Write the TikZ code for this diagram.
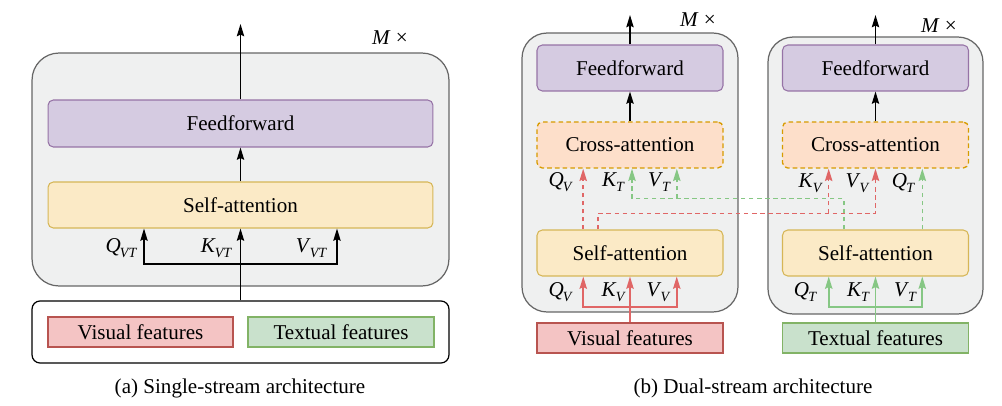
\documentclass[tikz,border=0pt]{standalone}
\usepackage{fontspec}
\setmainfont{Liberation Serif}
\usetikzlibrary{positioning,calc,arrows.meta}
\definecolor{stackfill}{HTML}{EFF0F0}
\definecolor{stackline}{HTML}{666666}
\definecolor{fffill}{HTML}{D5CBE1}
\definecolor{ffline}{HTML}{9673A6}
\definecolor{safill}{HTML}{FBEAC6}
\definecolor{saline}{HTML}{D6B656}
\definecolor{cafill}{HTML}{FDDFCA}
\definecolor{caline}{HTML}{D79B00}
\definecolor{visfill}{HTML}{F4C4C4}
\definecolor{visline}{HTML}{B85450}
\definecolor{txtfill}{HTML}{C9E1CC}
\definecolor{txtline}{HTML}{82B366}
\definecolor{redarrow}{HTML}{E06666}
\definecolor{greenarrow}{HTML}{86C784}
\newcommand{\qkv}[2]{\textit{#1}\kern-0.5pt\raisebox{-0.55ex}{\fontsize{8pt}{9pt}\selectfont\itshape #2}}
\tikzset{
  >={Stealth[length=7pt,width=4.2pt,inset=1pt]},
  stackbox/.style={draw=stackline,fill=stackfill,line width=0.7pt,rounded corners=0.5cm},
  block/.style={align=center,rectangle,draw,rounded corners=3pt,minimum height=0.92cm,minimum width=3.72cm,line width=0.6pt},
  ff/.style={block,draw=ffline,fill=fffill},
  sa/.style={block,draw=saline,fill=safill},
  ca/.style={block,draw=caline,fill=cafill,line width=0.75pt,dash pattern=on 2.6pt off 1.8pt},
  feat/.style={rectangle,draw,minimum height=0.6cm,minimum width=3.72cm,line width=0.6pt},
  redline/.style={draw=redarrow,line width=0.9pt},
  greenline/.style={draw=greenarrow,line width=0.9pt},
  reddash/.style={redline,dash pattern=on 2.6pt off 2pt},
  greendash/.style={greenline,dash pattern=on 2.6pt off 2pt}
}

\begin{document}
\begin{tikzpicture}[x=0.02cm,y=-0.02cm,->,line width=0.7pt,every node/.style={font=\fontsize{12pt}{14pt}\selectfont}]
    \useasboundingbox (0,0) rectangle (1002,406);

    % (a) single-stream
    \node at (240.5,169.5) [stackbox, minimum width=8.34cm, minimum height=4.66cm, rounded corners=0.54cm] (stackA) {};
    \node at (240.5,123.5) [ff, minimum width=7.7cm, minimum height=0.94cm] (ffA) {Feedforward};
    \node at (240.5,205) [sa, minimum width=7.7cm] (saA) {Self-attention};
    \node at (240.5,332) [draw, rounded corners=0.16cm, minimum width=8.34cm, minimum height=1.24cm] (inA) {};
    \node at (140.5,332) [feat, draw=visline, fill=visfill, minimum width=3.7cm] (visA) {Visual features};
    \node at (341,332) [feat, draw=txtline, fill=txtfill] (txtA) {Textual features};
    \node at (390,38) (mA) {\textit{M} ×};
    \coordinate (outA) at (240.5,24);
    \coordinate (jA) at (240.5,264);
    \coordinate (qA) at ($(saA.south)!0.5!(saA.south west)$);
    \coordinate (vA) at ($(saA.south)!0.5!(saA.south east)$);

    \draw (ffA.north) -- (outA);
    \draw (saA.north) -- (ffA.south);
    \draw (inA.north) -- (saA.south);
    \draw (jA) -| (qA);
    \draw (jA) -| (vA);

    \node at (121,248) {\qkv{Q}{VT}};
    \node at (216,248) {\qkv{K}{VT}};
    \node at (311,248) {\qkv{V}{VT}};
    \node at (240,388) (capA) {(a) Single-stream architecture};

    % (b) dual-stream, visual side
    \node at (630,172.5) [stackbox, minimum width=4.32cm, minimum height=5.58cm] (stackB) {};
    \node at (630,68) [ff] (ffB) {Feedforward};
    \node at (630,145) [ca] (caB) {Cross-attention};
    \node at (630,253) [sa] (saB) {Self-attention};
    \node at (630,338) [feat, draw=visline, fill=visfill] (visB) {Visual features};
    \node at (698,20) (mB) {\textit{M} ×};

    % (b) dual-stream, textual side
    \node at (875.5,175.5) [stackbox, minimum width=4.3cm, minimum height=5.54cm] (stackC) {};
    \node at (875.5,68) [ff] (ffC) {Feedforward};
    \node at (875.5,145) [ca] (caC) {Cross-attention};
    \node at (875.5,253) [sa] (saC) {Self-attention};
    \node at (875.5,338) [feat, draw=txtline, fill=txtfill] (txtC) {Textual features};
    \node at (939,26) (mC) {\textit{M} ×};

    \coordinate (outB) at (630,15);
    \coordinate (outC) at (875.5,15);
    \draw (ffB.north) -- (outB);
    \draw (caB.north) -- (ffB.south);
    \draw (ffC.north) -- (outC);
    \draw (caC.north) -- (ffC.south);

    % self-attention inputs
    \coordinate (jB) at (630,307);
    \coordinate (qB) at ($(saB.south)!0.5!(saB.south west)$);
    \coordinate (vB) at ($(saB.south)!0.5!(saB.south east)$);
    \draw[redline] (visB.north) -- (saB.south);
    \draw[redline] (jB) -| (qB);
    \draw[redline] (jB) -| (vB);

    \coordinate (jC) at (875.5,307);
    \coordinate (qC) at ($(saC.south)!0.5!(saC.south west)$);
    \coordinate (vC) at ($(saC.south)!0.5!(saC.south east)$);
    \draw[greenline] (txtC.north) -- (saC.south);
    \draw[greenline] (jC) -| (qC);
    \draw[greenline] (jC) -| (vC);

    % cross-attention inputs
    \coordinate (qxB) at ($(caB.south)!0.5!(caB.south west)$);
    \coordinate (kxB) at ($(caB.south)+(2,0)$);
    \coordinate (vxB) at ($(caB.south)!0.5!(caB.south east)$);
    \coordinate (kxC) at ($(caC.south)!0.5!(caC.south west)$);
    \coordinate (qxC) at ($(caC.south)!0.5!(caC.south east)$);
    \coordinate (rs) at ($(saB.north)!0.34!(saB.north west)$);
    \coordinate (redbus) at ($(rs)+(0,-16)$);
    \coordinate (gs) at ($(saC.north)!0.34!(saC.north west)$);
    \coordinate (greenbus) at ($(gs)+(0,-31)$);

    \draw[reddash] (saB.north -| qxB) -- (qxB);
    \draw[reddash] (rs) -- (redbus) -| (caC.south);
    \draw[reddash] (kxC |- redbus) -- (kxC);
    \draw[greendash] (gs) -- (greenbus) -| (kxB);
    \draw[greendash] (vxB |- greenbus) -- (vxB);
    \draw[greendash] (saC.north -| qxC) -- (qxC);

    \node at (560,182) {\qkv{Q}{V}};
    \node at (613,182) {\qkv{K}{T}};
    \node at (659,182) {\qkv{V}{T}};
    \node at (810,183) {\qkv{K}{V}};
    \node at (857,183) {\qkv{V}{V}};
    \node at (903,183) {\qkv{Q}{T}};

    \node at (560,292) {\qkv{Q}{V}};
    \node at (613,292) {\qkv{K}{V}};
    \node at (658,292) {\qkv{V}{V}};
    \node at (805,292) {\qkv{Q}{T}};
    \node at (858,292) {\qkv{K}{T}};
    \node at (905,292) {\qkv{V}{T}};
    \node at (753,388) (capB) {(b) Dual-stream architecture};
\end{tikzpicture}
\end{document}
